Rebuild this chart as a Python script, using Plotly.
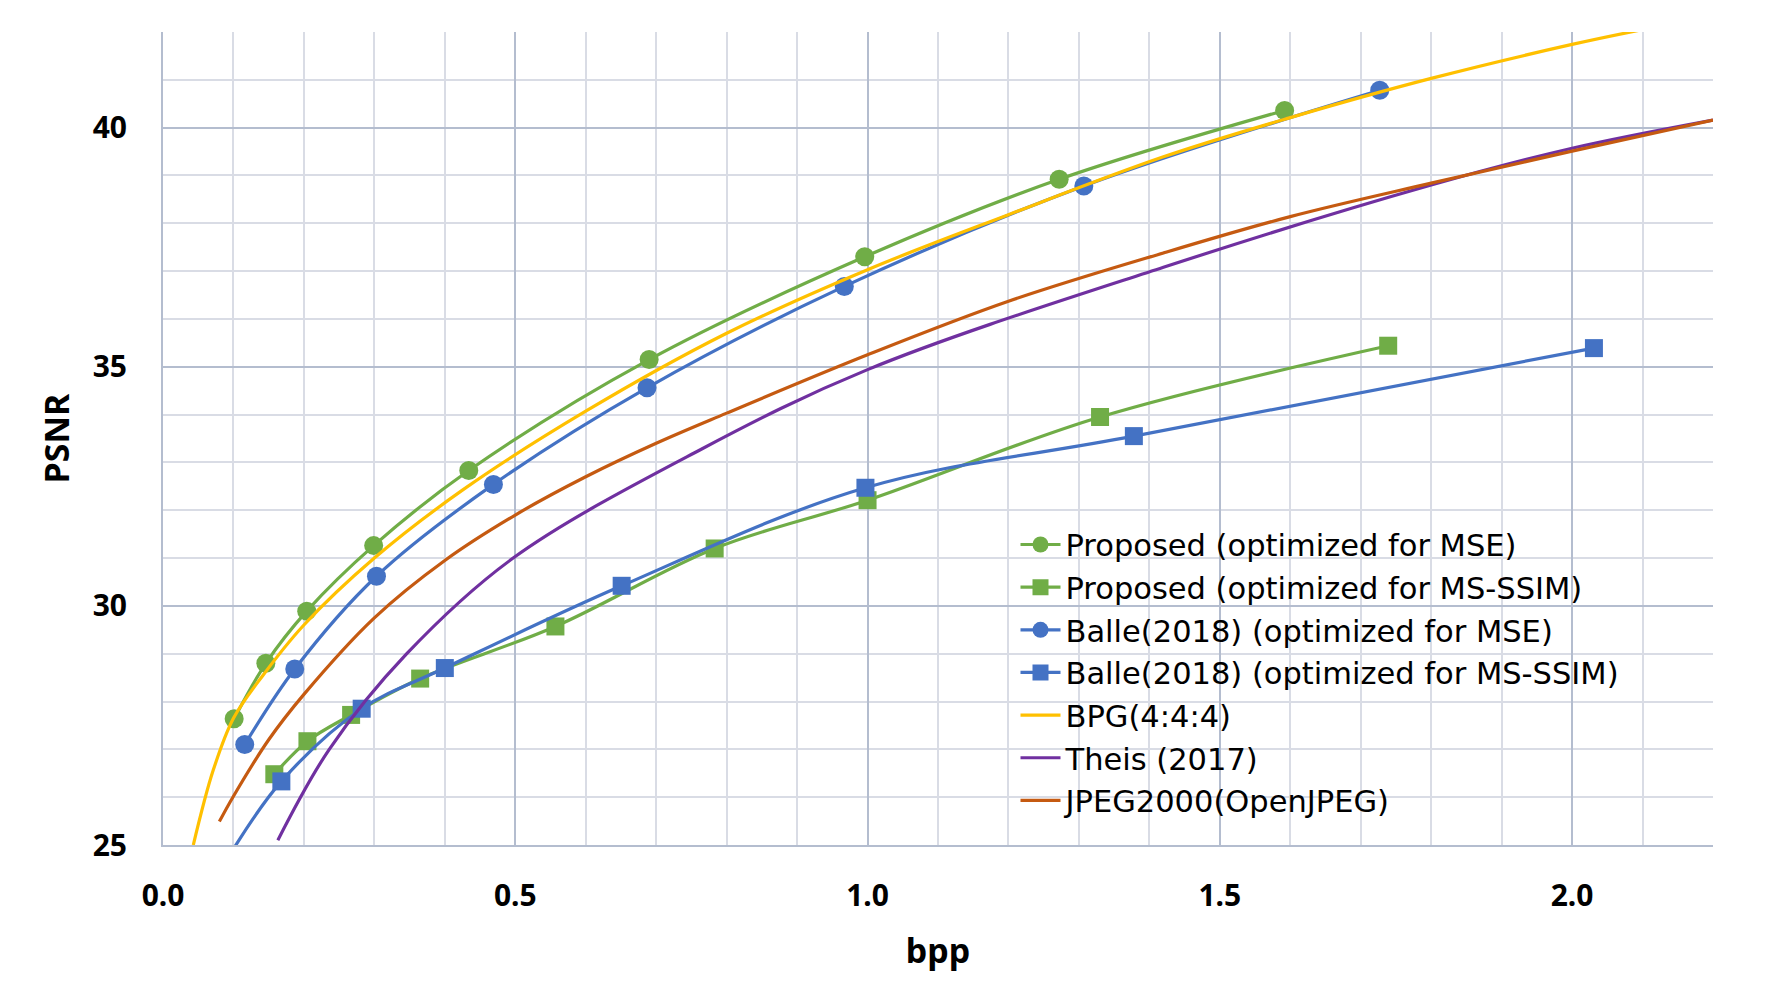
import plotly.graph_objects as go

# bpp / PSNR pairs
prop_mse_bpp = [0.101, 0.146, 0.204, 0.299, 0.434, 0.690, 0.996, 1.272, 1.592]
prop_mse_psnr = [27.64, 28.80, 29.89, 31.26, 32.83, 35.15, 37.30, 38.92, 40.36]

prop_ssim_bpp = [0.158, 0.205, 0.267, 0.365, 0.557, 0.783, 1.000, 1.330, 1.739]
prop_ssim_psnr = [26.48, 27.17, 27.72, 28.48, 29.57, 31.20, 32.21, 33.95, 35.44]

balle_mse_bpp = [0.116, 0.187, 0.303, 0.469, 0.687, 0.967, 1.307, 1.727]
balle_mse_psnr = [27.10, 28.68, 30.62, 32.54, 34.56, 36.68, 38.78, 40.78]

balle_ssim_bpp = [0.095, 0.168, 0.282, 0.400, 0.651, 0.997, 1.378, 2.031]
balle_ssim_psnr = [24.80, 26.33, 27.85, 28.70, 30.42, 32.47, 33.55, 35.39]

bpg_bpp = [0.043, 0.071, 0.100, 0.142, 0.200, 0.300, 0.426, 0.600,
           0.800, 1.000, 1.200, 1.420, 1.600, 1.800, 2.000, 2.100]
bpg_psnr = [25.00, 26.55, 27.65, 28.55, 29.60, 31.00, 32.43, 34.07,
            35.70, 37.03, 38.18, 39.39, 40.21, 41.03, 41.74, 42.05]

theis_bpp = [0.163, 0.236, 0.346, 0.497, 0.762, 1.000, 1.420, 1.800, 2.000, 2.200]
theis_psnr = [25.10, 27.00, 29.00, 31.00, 33.26, 34.94, 37.08, 38.80, 39.57, 40.16]

j2k_bpp = [0.080, 0.100, 0.150, 0.200, 0.300, 0.400, 0.500, 0.600, 0.700,
           0.800, 1.000, 1.200, 1.420, 1.600, 1.800, 2.000, 2.200]
j2k_psnr = [25.49, 26.02, 27.20, 28.15, 29.75, 30.95, 31.90, 32.70, 33.40,
            34.03, 35.25, 36.37, 37.38, 38.14, 38.84, 39.51, 40.16]

GREEN = "#70AD47"
BLUE = "#4472C4"
YELLOW = "#FFC000"
PURPLE = "#7030A0"
ORANGE = "#C55A11"

series = [
    ("Proposed (optimized for MSE)", prop_mse_bpp, prop_mse_psnr, GREEN, "circle"),
    ("Proposed (optimized for MS-SSIM)", prop_ssim_bpp, prop_ssim_psnr, GREEN, "square"),
    ("Balle(2018) (optimized for MSE)", balle_mse_bpp, balle_mse_psnr, BLUE, "circle"),
    ("Balle(2018) (optimized for MS-SSIM)", balle_ssim_bpp, balle_ssim_psnr, BLUE, "square"),
    ("BPG(4:4:4)", bpg_bpp, bpg_psnr, YELLOW, None),
    ("Theis (2017)", theis_bpp, theis_psnr, PURPLE, None),
    ("JPEG2000(OpenJPEG)", j2k_bpp, j2k_psnr, ORANGE, None),
]

fig = go.Figure()
for name, xs, ys, color, symbol in series:
    if symbol:
        fig.add_trace(go.Scatter(
            x=xs, y=ys, name=name, mode="lines+markers",
            line=dict(color=color, width=3.2, shape="spline"),
            marker=dict(symbol=symbol, size=19 if symbol == "circle" else 18, color=color),
        ))
    else:
        fig.add_trace(go.Scatter(
            x=xs, y=ys, name=name, mode="lines",
            line=dict(color=color, width=3.2, shape="spline"),
        ))

MAJOR = "#B4BDCF"
MINOR = "#D9DCE5"
tick_font = dict(family="Noto Sans", size=30, color="black", weight="bold")
title_font = dict(family="Noto Sans", size=34, color="black", weight="bold")

# page body has an 8px margin, so the figure is 16px smaller than the window
fig.update_layout(
    width=1750, height=987,
    margin=dict(l=155, r=45, t=24, b=150),
    paper_bgcolor="white", plot_bgcolor="white",
    showlegend=True,
    legend=dict(
        x=0.550, y=0.402, xanchor="left", yanchor="top",
        bgcolor="rgba(0,0,0,0)",
        font=dict(family="DejaVu Sans", size=30.5, color="black"),
        itemwidth=40, tracegroupgap=0,
    ),
)
fig.update_xaxes(
    range=[0, 2.2], dtick=0.5, tick0=0, tickformat=".1f",
    showgrid=True, gridcolor=MAJOR, gridwidth=2,
    minor=dict(dtick=0.1, showgrid=True, gridcolor=MINOR, gridwidth=1.5),
    showline=True, linecolor=MAJOR, linewidth=2,
    zeroline=False, ticks="", tickfont=tick_font, ticklabelstandoff=23,
    title=dict(text="bpp", font=title_font, standoff=25),
)
fig.update_yaxes(
    range=[25, 42], dtick=5, tick0=25,
    showgrid=True, gridcolor=MAJOR, gridwidth=2,
    minor=dict(dtick=1, showgrid=True, gridcolor=MINOR, gridwidth=1.5),
    showline=True, linecolor=MAJOR, linewidth=2,
    zeroline=False, ticks="", tickfont=tick_font, ticklabelstandoff=28,
    title=dict(text="PSNR", font=title_font, standoff=13),
)

fig.write_html("out.html")
